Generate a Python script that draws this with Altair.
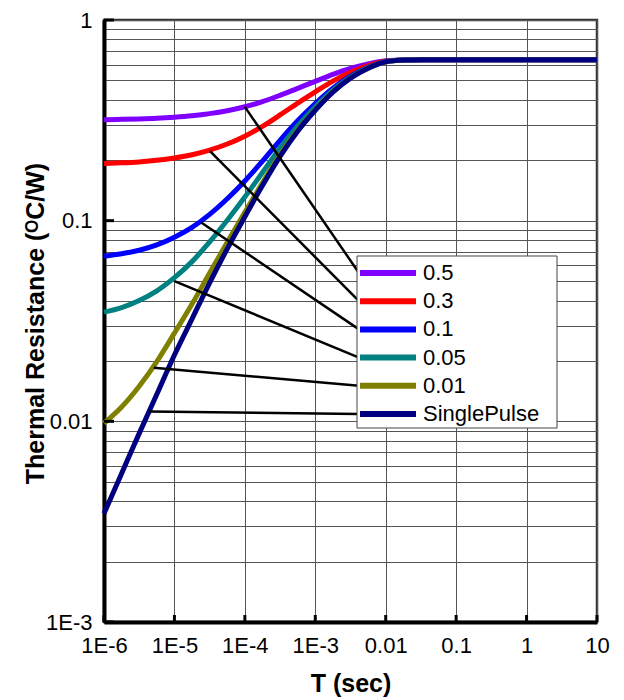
import altair as alt
import pandas as pd

# ---------------- data ----------------
times = [1e-6, 1.778e-6, 3.162e-6, 5.623e-6,
         1e-5, 1.778e-5, 3.162e-5, 5.623e-5,
         1e-4, 1.778e-4, 3.162e-4, 5.623e-4,
         1e-3, 1.778e-3, 3.162e-3, 5.623e-3,
         1e-2, 1.778e-2, 3.162e-2, 0.1, 1, 10]

series_names = ["0.5", "0.3", "0.1", "0.05", "0.01", "SinglePulse"]
series_colors = ["#8000FF", "#FF0000", "#0000FF", "#008080", "#808000", "#000080"]

d_050 = [0.3187, 0.3198, 0.3214, 0.3238, 0.3277, 0.3332, 0.3415, 0.3532,
         0.3694, 0.3918, 0.4215, 0.4565, 0.4945, 0.5355, 0.5735, 0.6045,
         0.6265, 0.6325, 0.634, 0.634, 0.634, 0.634]
d_030 = [0.1926, 0.1941, 0.1963, 0.1998, 0.2052, 0.2129, 0.2245, 0.2409,
         0.2635, 0.2949, 0.3365, 0.3855, 0.4387, 0.4961, 0.5493, 0.5927,
         0.6235, 0.6319, 0.634, 0.634, 0.634, 0.634]
d_010 = [0.0665, 0.0684, 0.0712, 0.0757, 0.0827, 0.0926, 0.1075, 0.1286,
         0.1576, 0.1980, 0.2515, 0.3145, 0.3829, 0.4567, 0.5251, 0.5809,
         0.6205, 0.6313, 0.634, 0.634, 0.634, 0.634]
d_005 = [0.0350, 0.0369, 0.0400, 0.0447, 0.0520, 0.0625, 0.0783, 0.1005,
         0.1312, 0.1738, 0.2303, 0.2968, 0.3690, 0.4469, 0.5191, 0.5780,
         0.6198, 0.6312, 0.634, 0.634, 0.634, 0.634]
d_001 = [0.00978, 0.01179, 0.01496, 0.01985, 0.0275, 0.0384, 0.0548, 0.0780,
         0.1100, 0.1544, 0.2132, 0.2825, 0.3578, 0.4389, 0.5142, 0.5756,
         0.6191, 0.6310, 0.634, 0.634, 0.634, 0.634]
d_single = [0.00347, 0.00550, 0.00871, 0.01365, 0.0214, 0.0324, 0.0490, 0.0724,
            0.1047, 0.1496, 0.209, 0.279, 0.355, 0.437, 0.513, 0.575,
            0.619, 0.631, 0.634, 0.634, 0.634, 0.634]
series_values = [d_050, d_030, d_010, d_005, d_001, d_single]

# where each leader line leaves its curve
leader_t = [1e-4, 3.2e-5, 2.4e-5, 1e-5, 5.1e-6, 4.4e-6]
leader_z = [0.369, 0.222, 0.098, 0.050, 0.0185, 0.0112]

x_ticks = [1e-6, 1e-5, 1e-4, 1e-3, 1e-2, 0.1, 1, 10]
x_labels = ["1E-6", "1E-5", "1E-4", "1E-3", "0.01", "0.1", "1", "10"]
y_ticks = [1e-3, 1e-2, 0.1, 1]
y_labels = ["1E-3", "0.01", "0.1", "1"]
y_grid = [m * d for d in [1e-3, 1e-2, 0.1] for m in range(1, 10)] + [1]

# ---------------- layout ----------------
W, H = 493, 602
TOP = 12
FONT = "Liberation Sans"


def label_expr(vals, labs):
    parts = [f"abs(datum.value - {v}) < {v * 1e-6} ? '{l}'" for v, l in zip(vals, labs)]
    return " : ".join(parts) + " : ''"


xs = alt.Scale(type="log", domain=[1e-6, 10], nice=False)
ys = alt.Scale(type="log", domain=[1e-3, 1], nice=False)

x_axis = alt.Axis(values=x_ticks, labelExpr=label_expr(x_ticks, x_labels),
                  title="T (sec)", titleY=69, titleBaseline="alphabetic",
                  labelPadding=13, grid=True)
y_axis = alt.Axis(values=y_grid, labelExpr=label_expr(y_ticks, y_labels),
                  title="Thermal Resistance (\u1d3cC/W)", titleX=-69, titleY=H / 2 + 2,
                  titleBaseline="middle", labelPadding=12, grid=True)

X = alt.X("t:Q", scale=xs, axis=x_axis)
Y = alt.Y("z:Q", scale=ys, axis=y_axis)

layers = []
for name, col, vals in zip(series_names, series_colors, series_values):
    df = pd.DataFrame({"t": times, "z": vals})
    layers.append(alt.Chart(df).mark_line(strokeWidth=5, interpolate="monotone",
                                          color=col).encode(x=X, y=Y))

# inward decade ticks
layers.append(alt.Chart(pd.DataFrame({"t": x_ticks})).mark_rule(
    color="black", strokeWidth=3).encode(x=X, y=alt.value(H), y2=alt.value(H - 7)))
layers.append(alt.Chart(pd.DataFrame({"z": y_ticks})).mark_rule(
    color="black", strokeWidth=3).encode(y=Y, x=alt.value(0), x2=alt.value(10)))

# legend geometry (pixels inside the plot area)
LEG_X0, LEG_X1, LEG_Y0, LEG_Y1 = 253, 453, 236, 408
ROW0, ROW_STEP = 253, 28.2
SW_X0, SW_X1, TXT_X = 256, 312, 319

# leader lines
for i, (lt, lz) in enumerate(zip(leader_t, leader_z)):
    ry = ROW0 + i * ROW_STEP
    layers.append(alt.Chart(pd.DataFrame({"t": [lt], "z": [lz]})).mark_rule(
        color="black", strokeWidth=2.5).encode(
        x=X, y=Y, x2=alt.value(LEG_X0 + 2), y2=alt.value(ry)))

dummy = pd.DataFrame({"a": [0]})
layers.append(alt.Chart(dummy).mark_rect(fill="white", stroke="#444", strokeWidth=1).encode(
    x=alt.value(LEG_X0), x2=alt.value(LEG_X1), y=alt.value(LEG_Y0), y2=alt.value(LEG_Y1)))

for i, (name, col) in enumerate(zip(series_names, series_colors)):
    ry = ROW0 + i * ROW_STEP
    layers.append(alt.Chart(dummy).mark_rule(color=col, strokeWidth=6).encode(
        x=alt.value(SW_X0), x2=alt.value(SW_X1), y=alt.value(ry)))
    layers.append(alt.Chart(dummy).mark_text(
        text=name, font=FONT, fontSize=22, align="left", baseline="middle", color="black"
    ).encode(x=alt.value(TXT_X), y=alt.value(ry)))

chart = alt.layer(*layers).properties(
    width=W, height=H,
    autosize=alt.AutoSizeParams(type="none"),
    padding={"left": 96, "top": TOP, "right": 19, "bottom": 84},
).configure_axis(
    labelFont=FONT, labelFontSize=22, labelColor="black",
    titleFont=FONT, titleFontSize=25, titleFontWeight="bold", titleColor="black",
    ticks=False, tickSize=0, domainColor="black", domainWidth=4,
    gridColor="#555555", gridWidth=1, labelOverlap=False, labelFlush=False,
).configure_view(stroke="#333333", strokeWidth=2.5)

chart.save("out.html", embed_options={"renderer": "svg", "actions": False})
